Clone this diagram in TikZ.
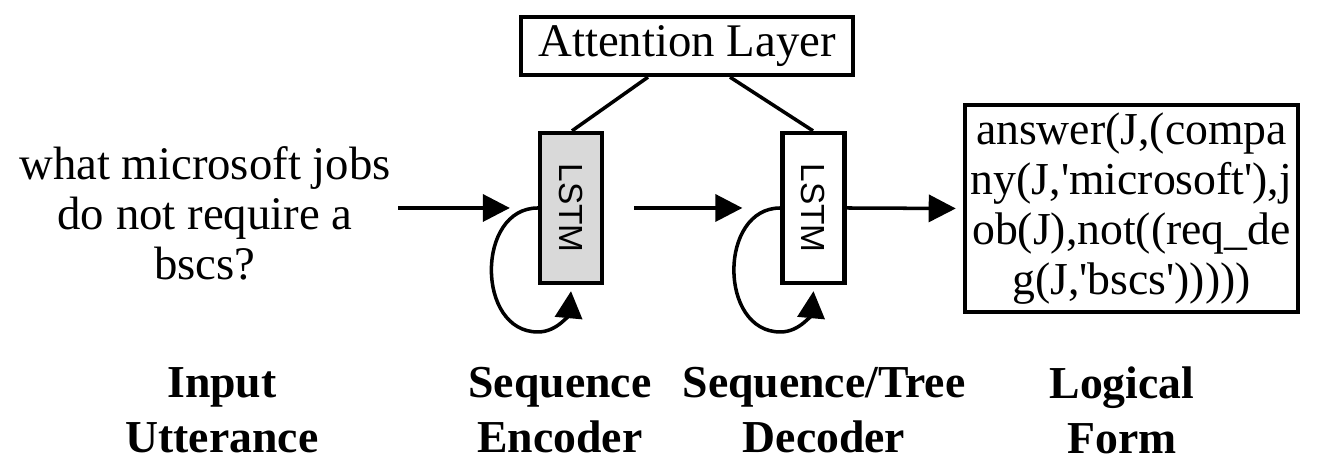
\documentclass[tikz,border=0pt]{standalone}
\usepackage{fontspec}
\setmainfont{Liberation Serif}
\newfontfamily\lstmfont{Liberation Sans}
\usetikzlibrary{positioning, arrows.meta, calc}

\begin{document}
\begin{tikzpicture}[x=0.01cm, y=-0.01cm,
  txt/.style={font=\fontsize{13.3pt}{14.2pt}\selectfont, align=center, inner sep=0pt},
  lbl/.style={font=\fontsize{13pt}{15.6pt}\selectfont\bfseries, align=center, inner sep=0pt},
  box/.style={draw, line width=1.2pt, inner sep=0pt},
  cell/.style={box, minimum width=0.62cm, minimum height=1.5cm, font=\lstmfont\fontsize{9.5pt}{11pt}\selectfont},
  arr/.style={line width=1pt, -{Triangle[length=7.7pt, width=7.7pt]}},
  lnk/.style={line width=1pt}]
\useasboundingbox (0,0) rectangle (1326,468);
% boxes
\node[box, txt, minimum width=3.32cm, minimum height=0.58cm] (att) at (687,46) {Attention Layer};
\node[cell, fill=black!15] (enc) at (571,208) {\rotatebox{-90}{LSTM}};
\node[cell, fill=white] (dec) at (813.5,208) {\rotatebox{-90}{LSTM}};
\node[box, txt, font=\fontsize{13pt}{14.2pt}\selectfont, minimum width=3.33cm, minimum height=2.07cm] (lf) at (1131.5,208.5)
  {answer(J,(compa\\ny(J,\textquotesingle microsoft\textquotesingle),j\\ob(J),not((req\_de\\g(J,\textquotesingle bscs\textquotesingle)))))};
\node[txt] (utt) at (205,213) {what microsoft jobs\\do not require a\\bscs?};
% attention links
\draw[lnk] ($(att.south)+(-39,0)$) -- ($(enc.north)+(1,0)$);
\draw[lnk] ($(att.south)+(43,0)$) -- ($(dec.north)+(-0.5,0)$);
% forward arrows
\coordinate (in0) at (398,208);
\draw[arr] (in0) -- ($(enc.west)+(-28,0)$);
\draw[arr] ($(enc.east)+(30,0)$) -- ($(dec.west)+(-38,0)$);
\draw[arr] (dec.east) -- ($(lf.west)+(-7,0)$);
% recurrent loops
\foreach \c in {enc,dec}
  \draw[arr] (\c.west) .. controls ($(\c.west)+(-62,0)$) and ($(\c.west)+(-62,124)$)
    .. ($(\c.west)+(0,124)$) .. controls ($(\c.west)+(20,124)$) and ($(\c.south)+(-2,28)$)
    .. ($(\c.south)+(0,6)$);
% captions
\node[lbl] (cin) at (222,410) {Input\\Utterance};
\node[lbl] (cenc) at (560,410) {Sequence\\Encoder};
\node[lbl] (cdec) at (824,410) {Sequence/Tree\\Decoder};
\node[lbl] (clf) at (1122,410) {Logical\\Form};
\end{tikzpicture}
\end{document}
